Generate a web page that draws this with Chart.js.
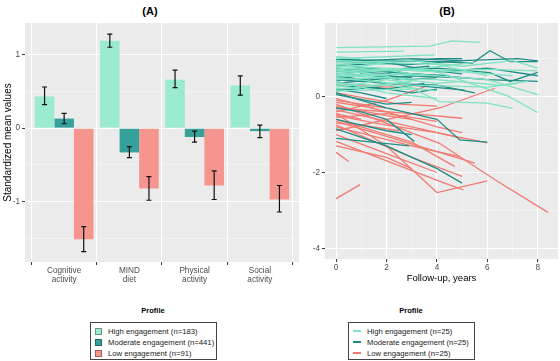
<!DOCTYPE html>
<html>
<head>
<meta charset="utf-8">
<script src="https://cdn.jsdelivr.net/npm/chart.js@4.4.1/dist/chart.umd.min.js"></script>
<style>
  html, body { margin: 0; padding: 0; background: #fff; }
  body { width: 560px; height: 361px; position: relative; overflow: hidden; font-family: "Liberation Sans", Arial, sans-serif; }
  canvas { position: absolute; top: 0; }
  #chartA { left: 0; }
  #chartB { left: 300px; }
  .ptitle { position: absolute; top: 5px; font-weight: bold; font-size: 11px; transform: translateX(-50%); color: #000; }
  .ltitle { position: absolute; top: 306px; font-weight: bold; font-size: 7.5px; transform: translateX(-50%); color: #000; }
  .legend { position: absolute; top: 322px; width: 125px; height: 38px; border: 1px solid #444; box-sizing: border-box; font-size: 7.7px; color: #1a1a1a; }
  .legend .row { position: absolute; left: 0; height: 11px; line-height: 11px; white-space: nowrap; }
  .legend .txt { position: absolute; top: 0; }
  .keybox { position: absolute; top: 2px; left: 4px; width: 7px; height: 7px; box-sizing: border-box; }
  .keyline { position: absolute; top: 4.5px; left: 4px; width: 8px; height: 2px; }
</style>
</head>
<body>
<div class="ptitle" style="left:150px">(A)</div>
<div class="ptitle" style="left:447px">(B)</div>
<canvas id="chartA" width="300" height="290"></canvas>
<canvas id="chartB" width="260" height="290"></canvas>
<div class="ltitle" style="left:153px">Profile</div>
<div class="legend" id="legendA" style="left:90px; width:127px"></div>
<div class="ltitle" style="left:411px">Profile</div>
<div class="legend" id="legendB" style="left:348px; width:127px"></div>
<script>
// ---- panel A data ----
const categories = [['Cognitive', 'activity'], ['MIND', 'diet'], ['Physical', 'activity'], ['Social', 'activity']];
const profileNamesA = ['High engagement (n=183)', 'Moderate engagement (n=441)', 'Low engagement (n=91)'];
const highMeans = [0.43, 1.19, 0.66, 0.58];
const highLo = [0.32, 1.10, 0.55, 0.45];
const highHi = [0.56, 1.28, 0.79, 0.71];
const modMeans = [0.13, -0.33, -0.12, -0.04];
const modLo = [0.06, -0.40, -0.19, -0.13];
const modHi = [0.20, -0.25, -0.04, 0.04];
const lowMeans = [-1.51, -0.82, -0.78, -0.97];
const lowLo = [-1.68, -0.98, -0.97, -1.14];
const lowHi = [-1.34, -0.66, -0.58, -0.78];
const yTicksA = [-1.5, -1, -0.5, 0, 0.5, 1];

// ---- panel B data: each line is a list of [years, value] ----
const profileNamesB = ['High engagement (n=25)', 'Moderate engagement (n=25)', 'Low engagement (n=25)'];
const highLines = [
  [[0,1.29],[3.7,1.33],[4.6,1.47],[5.7,1.43]],
  [[0,1.17],[2.7,1.2]],
  [[0,1.0],[2,1.05],[3.9,1.1]],
  [[0,0.9],[3,0.95],[5,0.8],[7,0.95],[8,0.75]],
  [[0,0.8],[2,0.75],[4,0.7],[6,0.72],[8,0.68]],
  [[0,0.7],[2.1,0.72],[4,0.65],[6.8,0.02],[8,-0.42]],
  [[0,0.6],[2,0.55],[4.1,-0.13],[6,-0.17],[7,-0.31]],
  [[0,0.55],[3,0.6],[6,0.45],[8,0.05]],
  [[0,0.85],[1,0.8],[2,0.9]],
  [[0,0.45],[2,0.5],[4,0.35],[5,0.4]],
  [[0,0.35],[1.5,0.3],[3,0.4]],
  [[0,0.95],[4,0.85],[6,0.55]],
  [[0,0.65],[2,0.7],[3,0.6]],
  [[0,0.5],[3,0.3],[6,0.25],[7.2,0.35]],
  [[0,0.2],[2,0.3],[4,0.15]],
  [[0,0.75],[5,0.65],[7,0.55]],
  [[0,1.05],[1,1.0]],
  [[0,0.4],[2,0.1],[4,-0.05]],
  [[0,0.3],[1,0.2]],
  [[0,0.6],[3.5,0.75],[5.5,0.9]],
  [[0,0.15],[3,0.2]],
  [[0,0.9],[2,0.85]],
  [[0,0.55],[4,0.45],[6.5,0.3],[7.6,0.4]],
  [[0,0.25],[2,0.45],[3,0.35]],
  [[0,0.7],[1.5,0.6],[4,0.55]]
];
const modLines = [
  [[0,0.98],[2,0.95],[4.1,0.92],[5.4,0.88],[6.1,1.21],[6.9,0.92],[8,0.92]],
  [[0,0.9],[3,0.85],[5,0.95],[7.2,1.0],[8,0.94]],
  [[0,0.6],[2,0.7],[4,0.75],[6.1,0.63],[6.9,0.4],[8,0.64]],
  [[0,0.75],[4,0.55],[6,0.45],[8,0.4]],
  [[0,0.45],[3,0.3],[5.1,0.17]],
  [[0,0.85],[2,0.7],[3.7,0.8]],
  [[0,0.5],[1,0.45],[2,0.55],[3,0.5]],
  [[0,0.1],[2,-0.3],[4,-0.6],[4.9,-1.14],[6,-1.2]],
  [[0,-0.3],[1,-0.4],[2,-0.6],[3.1,-1.18]],
  [[0,-1.1],[2.9,-1.3]],
  [[0,-0.85],[2,-1.3],[4,-1.9],[5,-2.28]],
  [[0,1.0],[1,0.95],[3,1.0],[5,0.95]],
  [[0,0.7],[2,0.6],[3,0.75],[5,0.6]],
  [[0,0.3],[2,0.2],[3.5,0.35]],
  [[0,0.4],[1,0.6],[2.5,0.45],[4,0.5]],
  [[0,0.8],[2,0.9],[4,0.65],[6,0.75],[8,0.55]],
  [[0,0.2],[1,0.1],[2,-0.05]],
  [[0,0.55],[2,0.35],[4,0.3],[5.5,0.1]],
  [[0,0.65],[1,0.75]],
  [[0,0.95],[2,0.9],[4,1.0],[5,1.0]],
  [[0,0.35],[3,0.55],[5,0.5]],
  [[0,0.05],[2,-0.2],[3,-0.15]],
  [[0,0.15],[1.5,0.25],[3,0.1],[4,0.2]],
  [[0,0.85],[3,0.6],[4.5,0.55]],
  [[0,-0.6],[2,-0.9],[3,-1.0]]
];
const lowLines = [
  [[0,-2.69],[0.95,-2.32]],
  [[0,-1.47],[0.5,-1.71]],
  [[0,-0.2],[4.1,-1.23],[6.3,-2.19],[8.4,-3.05]],
  [[0,-0.45],[2,-1.3],[4,-2.53],[6,-2.22]],
  [[0,-1.18],[4.3,-2.28],[5.05,-2.46]],
  [[0,-0.3],[3,-0.45],[5,-0.57]],
  [[0,-0.6],[3,-1.2],[4.7,-1.84]],
  [[0,-0.5],[2,-0.75],[4,-0.95],[6,-1.22]],
  [[0,-0.8],[3,-1.3],[4.9,-1.58]],
  [[0,-0.4],[2,-0.1],[3.7,0.3]],
  [[0,-0.9],[4.1,-0.3],[6.3,0.22]],
  [[0,-0.1],[1,-0.2],[2,-0.3]],
  [[0,-0.25],[2,-0.5],[3,-0.6]],
  [[0,-0.7],[1,-0.75],[2.5,-0.9]],
  [[0,-1.0],[2,-1.5],[4,-2.0]],
  [[0,-0.35],[3,-0.8],[5,-1.1]],
  [[0,-0.55],[2,-0.45],[4,-0.65]],
  [[0,0.35],[2,0.25],[3.5,0.3]],
  [[0,-0.15],[1.5,-0.3]],
  [[0,-1.3],[2,-1.6],[3,-1.9]],
  [[0,-0.75],[3,-1.6],[5,-2.1]],
  [[0,-0.05],[2,-0.4],[4,-0.8],[5,-0.95]],
  [[0,-0.45],[1,-0.6]],
  [[0,0.1],[2.5,-0.2],[4,-0.25]],
  [[0,-0.65],[2,-1.05],[4,-1.45],[5.5,-1.75]]
];
const xTicksB = [0, 1, 2, 3, 4, 5, 6, 7, 8];
const yTicksB = [-4, -3, -2, -1, 0, 1];

const barColors = ['#9AEBD0', '#36A09A', '#F5958E'];
const lineColors = ['#7FE3C3', '#1F8D86', '#F07A72'];

Chart.defaults.font.family = '"Liberation Sans", Arial, sans-serif';
Chart.defaults.animation = false;

const panelBg = {
    id: 'panelBg',
    beforeDraw(chart) {
        const { ctx, chartArea: a } = chart;
        ctx.save();
        ctx.fillStyle = '#EBEBEB';
        ctx.fillRect(a.left, a.top, a.right - a.left, a.bottom - a.top);
        ctx.restore();
    }
};

const errorBars = {
    id: 'errorBars',
    afterDatasetsDraw(chart) {
        const { ctx } = chart;
        const yScale = chart.scales.y;
        ctx.save();
        ctx.strokeStyle = '#111';
        ctx.lineWidth = 1.2;
        chart.data.datasets.forEach((ds, di) => {
            const meta = chart.getDatasetMeta(di);
            meta.data.forEach((bar, i) => {
                const yl = yScale.getPixelForValue(ds.errLo[i]);
                const yh = yScale.getPixelForValue(ds.errHi[i]);
                const x = bar.x, w = 2.5;
                ctx.beginPath();
                ctx.moveTo(x, yl); ctx.lineTo(x, yh);
                ctx.moveTo(x - w, yl); ctx.lineTo(x + w, yl);
                ctx.moveTo(x - w, yh); ctx.lineTo(x + w, yh);
                ctx.stroke();
            });
        });
        ctx.restore();
    }
};

function gridStyle(isMajor) {
    return {
        color: ctx => isMajor(ctx.tick && ctx.tick.value) ? '#FFFFFF' : 'rgba(255,255,255,0.75)',
        lineWidth: ctx => isMajor(ctx.tick && ctx.tick.value) ? 1.1 : 0.5,
        tickColor: ctx => isMajor(ctx.tick && ctx.tick.value) ? '#333333' : 'rgba(0,0,0,0)',
        tickWidth: 1,
        tickLength: 3
    };
}
const tickFont = { size: 8.2 };
const tickColor = '#4D4D4D';

// ---- panel A ----
const seriesA = [
    [highMeans, highLo, highHi],
    [modMeans, modLo, modHi],
    [lowMeans, lowLo, lowHi]
];
new Chart(document.getElementById('chartA'), {
    type: 'bar',
    data: {
        datasets: seriesA.map((s, k) => ({
            label: profileNamesA[k],
            data: s[0].map((v, i) => ({ x: i + 1, y: v })),
            errLo: s[1],
            errHi: s[2],
            backgroundColor: barColors[k],
            categoryPercentage: 0.9,
            barPercentage: 1
        }))
    },
    options: {
        responsive: false,
        layout: { padding: { top: 23, right: 1, left: 0, bottom: 0 } },
        plugins: { legend: { display: false }, tooltip: { enabled: false } },
        scales: {
            x: {
                type: 'linear', min: 0.4, max: 4.6, offset: false,
                afterBuildTicks: sc => { sc.ticks = categories.map((c, i) => ({ value: i + 1 })); },
                afterFit: sc => { sc.height = 28; },
                ticks: { callback: v => categories[Math.round(v) - 1], font: { size: 8.2, lineHeight: 1.15 }, color: tickColor, padding: 1, maxRotation: 0 },
                grid: gridStyle(() => true),
                border: { display: false }
            },
            y: {
                min: -1.82, max: 1.43,
                afterBuildTicks: sc => { sc.ticks = yTicksA.map(v => ({ value: v })); },
                afterFit: sc => { sc.width = 25; },
                ticks: { callback: v => Number.isInteger(v) ? String(v) : '', font: tickFont, color: tickColor, padding: 2 },
                grid: gridStyle(v => Number.isInteger(v)),
                border: { display: false },
                title: { display: true, text: 'Standardized mean values', font: { size: 10 }, color: '#000', padding: { top: 2, bottom: 0 } }
            }
        }
    },
    plugins: [panelBg, errorBars]
});

// ---- panel B ----
const groupsB = [highLines, modLines, lowLines];
const datasetsB = [];
groupsB.forEach((lines, k) => {
    lines.forEach(pts => {
        datasetsB.push({
            data: pts.map(p => ({ x: p[0], y: p[1] })),
            borderColor: lineColors[k],
            borderWidth: 1.3,
            pointRadius: 0,
            showLine: true,
            fill: false
        });
    });
});
new Chart(document.getElementById('chartB'), {
    type: 'scatter',
    data: { datasets: datasetsB },
    options: {
        responsive: false,
        layout: { padding: { top: 23, right: 2, left: 0, bottom: 0 } },
        plugins: { legend: { display: false }, tooltip: { enabled: false } },
        scales: {
            x: {
                type: 'linear', min: -0.44, max: 8.8,
                afterBuildTicks: sc => { sc.ticks = xTicksB.map(v => ({ value: v })); },
                afterFit: sc => { sc.height = 31; },
                ticks: { callback: v => v % 2 === 0 ? String(v) : '', font: tickFont, color: tickColor, padding: 1, maxRotation: 0 },
                grid: gridStyle(v => v % 2 === 0),
                border: { display: false },
                title: { display: true, text: 'Follow-up, years', font: { size: 9.5 }, color: '#000', padding: { top: 0, bottom: 6 } }
            },
            y: {
                min: -4.28, max: 1.94,
                afterBuildTicks: sc => { sc.ticks = yTicksB.map(v => ({ value: v })); },
                afterFit: sc => { sc.width = 25; },
                ticks: { callback: v => v % 2 === 0 ? String(v) : '', font: tickFont, color: tickColor, padding: 2 },
                grid: gridStyle(v => v % 2 === 0),
                border: { display: false }
            }
        }
    },
    plugins: [panelBg]
});

// ---- legends ----
function buildLegend(id, names, colors, lineKey) {
    const el = document.getElementById(id);
    el.innerHTML = names.map((n, i) => {
        const key = lineKey
            ? `<span class="keyline" style="background:${colors[i]}"></span>`
            : `<span class="keybox" style="background:${colors[i]};border:1px solid rgba(0,0,0,0.35)"></span>`;
        return `<div class="row" style="top:${2.5 + i * 11}px;width:100%">${key}<span class="txt" style="left:${lineKey ? 18 : 17}px">${n}</span></div>`;
    }).join('');
}
buildLegend('legendA', profileNamesA, barColors, false);
buildLegend('legendB', profileNamesB, lineColors, true);
</script>
</body>
</html>
